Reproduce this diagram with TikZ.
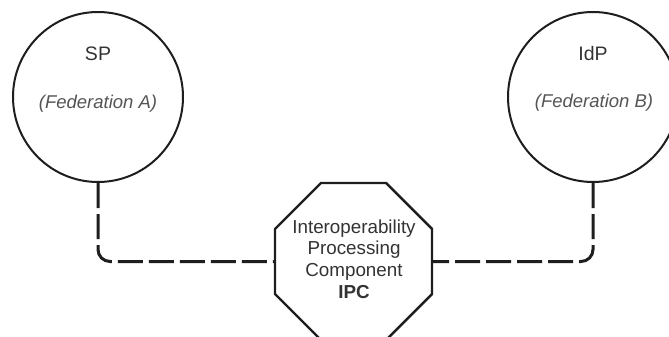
\documentclass[tikz,border=0pt]{standalone}
\usepackage{fontspec}
\setmainfont{Liberation Sans}
\usetikzlibrary{shapes.geometric}
\definecolor{edge}{HTML}{1E1E1E}
\definecolor{txt}{HTML}{333333}
\definecolor{subtxt}{HTML}{555555}
\tikzset{
  party/.style={circle, draw=edge, line width=2pt, minimum size=170pt, inner sep=0pt},
  ipcbox/.style={regular polygon, regular polygon sides=8, draw=edge, line width=2.4pt,
                 minimum size=170pt, inner sep=0pt},
  title/.style={anchor=base, text=txt, font=\fontsize{19.5}{23}\selectfont, inner sep=0pt},
  fed/.style={anchor=base, text=subtxt, font=\fontsize{18.5}{22}\selectfont\itshape, inner sep=0pt},
  ipctext/.style={align=center, text=txt, font=\fontsize{18.8}{21.7}\selectfont, inner sep=0pt},
  conn/.style={draw=edge, line width=3pt, dash pattern=on 25pt off 6pt, rounded corners=12pt}
}
\begin{document}
\begin{tikzpicture}[x=1pt, y=-1pt]
\useasboundingbox (0,0) rectangle (669,337);
\clip (0,0) rectangle (669,337);
\fill[white] (0,0) rectangle (669,337);
\node[party] (sp) at (98,97) {};
\node[party] (idp) at (593,97) {};
\node[ipcbox] (ipc) at (353.5,261.5) {};
\node[title] (sptitle) at (98,61) {SP};
\node[fed] (spfed) at (98,108) {(Federation A)};
\node[title] (idptitle) at (593,61) {IdP};
\node[fed] (idpfed) at (594,107) {(Federation B)};
\node[ipctext] (ipclabel) at (354,259) {Interoperability\\Processing\\Component\\\textbf{IPC}};
\draw[conn] (sp.south) |- (ipc.west);
\draw[conn] (idp.south) |- (ipc.east);
\end{tikzpicture}
\end{document}
